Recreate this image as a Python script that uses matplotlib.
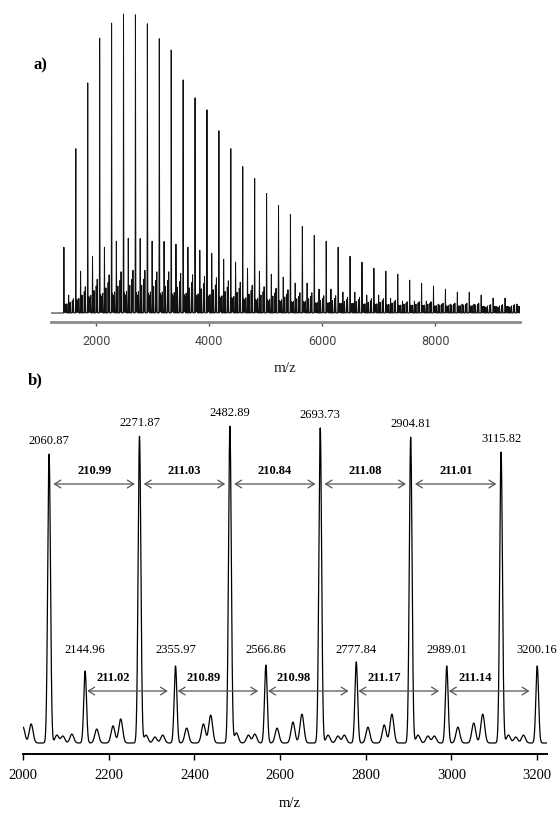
import numpy as np
import matplotlib.pyplot as plt

plt.rcParams['font.family'] = ['Liberation Serif', 'DejaVu Serif']

# ---------- panel a : spectre complet ----------
# pics de la serie principale (m/z) et hauteurs relatives (%)
mz_principal = [1427.9, 1638.9, 1849.9, 2060.9, 2271.9, 2482.9, 2693.7, 2904.8, 3115.8,
                3326.9, 3537.9, 3748.9, 3959.9, 4170.9, 4381.9, 4592.9, 4803.9, 5014.9,
                5225.9, 5436.9, 5647.9, 5858.9, 6069.9, 6280.9, 6491.9, 6702.9, 6913.9,
                7124.9, 7335.9, 7546.9, 7757.9, 7968.9, 8179.9, 8390.9, 8601.9, 8812.9,
                9023.9, 9234.9, 9445.9]
haut_principal = [22, 55, 77, 92, 97, 100, 100, 97, 92, 88, 78, 72, 68, 61, 55, 49, 45, 40,
                  36, 33, 29, 26, 24, 22, 19, 17, 15, 14, 13, 11, 10, 9, 8, 7, 7, 6, 5, 5, 3]

# seconde serie (2144.96 + n*211)
mz_second = [1512.0, 1723.0, 1934.0, 2145.0, 2356.0, 2566.9, 2777.8, 2989.0, 3200.2,
             3411.0, 3622.0, 3833.0, 4044.0, 4255.0, 4466.0, 4677.0, 4888.0, 5099.0,
             5310.0, 5521.0, 5732.0, 5943.0, 6154.0, 6365.0, 6576.0, 6787.0, 6998.0,
             7209.0, 7420.0, 7631.0, 7842.0, 8053.0, 8264.0, 8475.0, 8686.0, 8897.0,
             9108.0, 9319.0]
haut_second = [6, 14, 19, 22, 24, 25, 25, 24, 24, 23, 22, 21, 20, 18, 17, 15, 14, 13, 12,
               10, 10, 8, 8, 7, 7, 6, 6, 5, 4, 4, 4, 3, 3, 3, 3, 2, 2, 2]

# petits pics repetes dans chaque motif (decalage depuis le pic principal, rapport a la seconde serie)
decal_petits = [18, 33, 53, 111, 149, 167]
rapport_petits = [0.2, 0.17, 0.22, 0.3, 0.38, 0.5]

ticks_a = [2000, 4000, 6000, 8000]

# ---------- panel b : zoom ----------
mz_b_principal = [2060.87, 2271.87, 2482.89, 2693.73, 2904.81, 3115.82]
haut_b_principal = [91.2, 96.8, 100, 99.4, 96.5, 91.8]
mz_b_second = [2144.96, 2355.97, 2566.86, 2777.84, 2989.01, 3200.16]
haut_b_second = [22.7, 24.3, 24.6, 25.6, 24.3, 24.3]
ecarts_haut = ['210.99', '211.03', '210.84', '211.08', '211.01']
ecarts_bas = ['211.02', '210.89', '210.98', '211.17', '211.14']

mz_b_petits = [2000, 2019, 2079, 2093, 2114, 2172, 2210, 2228, 2287, 2308, 2326, 2382,
               2421, 2438, 2498, 2526, 2541, 2593, 2630, 2651, 2712, 2735, 2750, 2805,
               2843, 2861, 2922, 2945, 2960, 3015, 3052, 3073, 3133, 3150, 3168]
haut_b_petits = [5.0, 6.0, 2.5, 2.2, 2.8, 4.4, 5.4, 7.6, 2.5, 1.9, 2.5, 4.7,
                 6.0, 8.8, 3.2, 2.5, 2.8, 4.7, 6.6, 9.1, 2.5, 2.2, 2.5, 5.0,
                 5.7, 9.1, 2.5, 2.2, 2.2, 5.0, 6.3, 9.1, 2.5, 1.9, 2.5]

ticks_b = [2000, 2200, 2400, 2600, 2800, 3000, 3200]


def pic(x, centre, haut, sigma):
    return haut * np.exp(-0.5 * ((x - centre) / sigma) ** 2)


fig = plt.figure(figsize=(5.6, 8.13), dpi=100)

# ---------------- a) ----------------
x_a = np.arange(1200, 9500, 0.5)
y_a = np.zeros_like(x_a)
for i, (m, h) in enumerate(zip(mz_principal, haut_principal)):
    y_a += pic(x_a, m, h, 2.5)
    hs = haut_second[min(i, len(haut_second) - 1)]
    for d, r in zip(decal_petits, rapport_petits):
        y_a += pic(x_a, m + d, r * hs + 1.8, 3.0)
for m, h in zip(mz_second, haut_second):
    y_a += pic(x_a, m, h, 2.5)

ax_a = fig.add_axes([0.0911, 0.6039, 0.8375, 0.3838])
ax_a.plot(x_a, y_a, color='#111111', lw=0.7)
ax_a.set_xlim(1200, 9500)
ax_a.set_ylim(-3.0, 101.3)
for s in ['top', 'right', 'left']:
    ax_a.spines[s].set_visible(False)
ax_a.spines['bottom'].set_color('#8a8a8a')
ax_a.spines['bottom'].set_linewidth(2)
ax_a.set_yticks([])
ax_a.set_xticks(ticks_a)
ax_a.tick_params(axis='x', length=3, width=1, color='#555555', pad=6,
                 labelsize=9, labelcolor='#444444')
for t in ax_a.get_xticklabels():
    t.set_fontfamily('Roboto')
fig.text(0.509, 0.547, 'm/z', ha='center', va='center', fontsize=11, color='#222222')
fig.text(0.0714, 0.920, 'a)', ha='center', va='center', fontsize=12, fontweight='bold')

# ---------------- b) ----------------
x_b = np.arange(2000, 3223, 0.25)
y_b = np.zeros_like(x_b)
for m, h in zip(mz_b_principal, haut_b_principal):
    y_b += pic(x_b, m, h, 3.2)
for m, h in zip(mz_b_second, haut_b_second):
    y_b += pic(x_b, m, h, 3.2)
for m, h in zip(mz_b_petits, haut_b_petits):
    y_b += pic(x_b, m, h, 4.5)

ax_b = fig.add_axes([0.0411, 0.07257, 0.9357, 0.4354])
ax_b.plot(x_b, y_b, color='black', lw=0.9)
ax_b.set_xlim(2000, 3223)
ax_b.set_ylim(-3.47, 108.2)
for s in ['top', 'right', 'left']:
    ax_b.spines[s].set_visible(False)
ax_b.spines['bottom'].set_linewidth(1.4)
ax_b.set_yticks([])
ax_b.set_xticks(ticks_b)
ax_b.tick_params(axis='x', length=4, width=1, pad=7, labelsize=10.5)

# etiquettes des pics
for m, h in zip(mz_b_principal, haut_b_principal):
    ax_b.annotate('%.2f' % m, (m, h), xytext=(0, 5), textcoords='offset points',
                  ha='center', va='bottom', fontsize=9)
for m in mz_b_second:
    ax_b.text(m, 29.3, '%.2f' % m, ha='center', va='center', fontsize=9)

# fleches entre pics
style = '<->,head_length=0.45,head_width=0.28'
for i, lab in enumerate(ecarts_haut):
    g, d = mz_b_principal[i], mz_b_principal[i + 1]
    ax_b.annotate('', xy=(d - 11, 81.7), xytext=(g + 10, 81.7),
                  arrowprops=dict(arrowstyle=style, color='#555555', lw=0.9,
                                  mutation_scale=10, shrinkA=0, shrinkB=0))
    ax_b.text((g + d) / 2, 85.8, lab, ha='center', va='center', fontsize=9, fontweight='bold')
for i, lab in enumerate(ecarts_bas):
    g, d = mz_b_second[i], mz_b_second[i + 1]
    ax_b.annotate('', xy=(d - 18, 16.4), xytext=(g + 5, 16.4),
                  arrowprops=dict(arrowstyle=style, color='#555555', lw=0.9,
                                  mutation_scale=10, shrinkA=0, shrinkB=0))
    ax_b.text((g + d) / 2 - 40, 20.5, lab, ha='center', va='center', fontsize=9, fontweight='bold')

fig.text(0.518, 0.012, 'm/z', ha='center', va='center', fontsize=10.5)
fig.text(0.0625, 0.5326, 'b)', ha='center', va='center', fontsize=12, fontweight='bold')

fig.savefig('out.png', dpi=100, facecolor='white')
